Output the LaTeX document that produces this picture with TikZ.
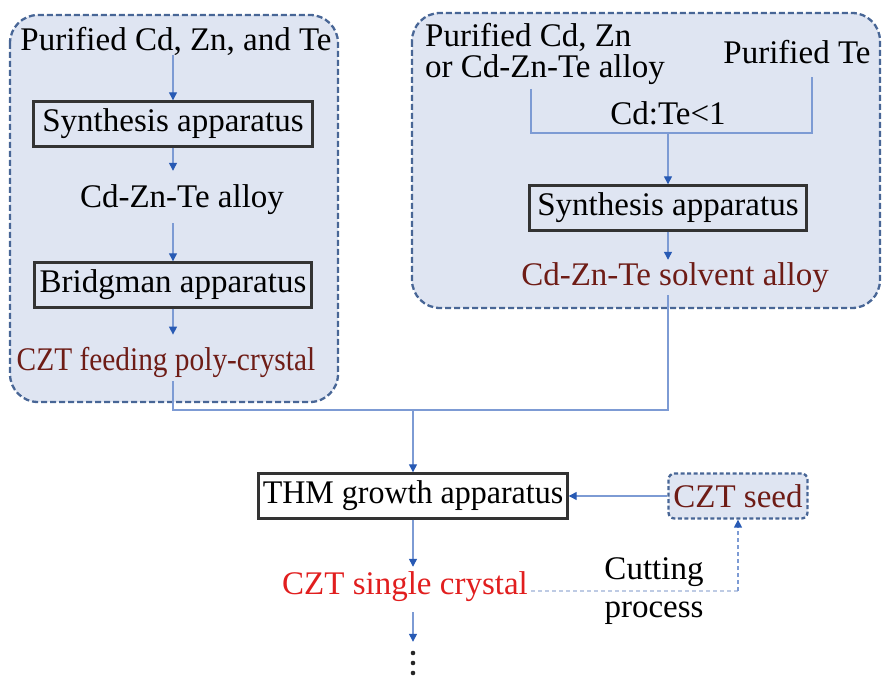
\documentclass[tikz,border=0pt]{standalone}
\usepackage{fontspec}
\usepackage{graphicx}
\setmainfont{Liberation Serif}
\usetikzlibrary{arrows.meta}
\definecolor{boxfill}{RGB}{223,229,242}
\definecolor{boxborder}{RGB}{72,102,150}
\definecolor{conn}{RGB}{125,155,212}
\definecolor{lightconn}{RGB}{190,203,228}
\definecolor{tipc}{RGB}{40,90,180}
\definecolor{darkred}{RGB}{110,28,22}
\definecolor{brightred}{RGB}{225,30,30}
\begin{document}
\begin{tikzpicture}[x=1pt,y=-1pt,
  txt/.style={font=\fontsize{33}{31}\selectfont, inner sep=0pt},
  appbox/.style={txt, draw=black!80, line width=2.4pt, minimum height=45pt},
  group/.style={draw=boxborder, fill=boxfill, dash pattern=on 6pt off 3pt, line width=2.3pt, rounded corners=28pt},
  arr/.style={draw=conn, line width=1.3pt, -{Triangle[length=8pt,width=8pt,color=tipc]}},
  ln/.style={draw=conn, line width=1.3pt},
  dsharr/.style={draw=conn, line width=1.4pt, dash pattern=on 4pt off 3pt, -{Triangle[length=8pt,width=8pt,color=tipc]}},
  dots/.style={fill=black!85},
]
\useasboundingbox (0,0) rectangle (886,684);

% group boxes
\draw[group] (10,15) rectangle (338,402);
\draw[group] (412,13) rectangle (880,308);

% left column
\node[txt] (l1) at (176,41) {Purified Cd, Zn, and Te};
\node[appbox, minimum width=279pt] (l2) at (173,124) {Synthesis apparatus};
\node[txt] (l3) at (182,200) {Cd-Zn-Te alloy};
\node[appbox, minimum width=277pt] (l4) at (173,285) {Bridgman apparatus};
\node[txt, text=darkred] (l5) at (166,362) {\scalebox{0.89}[1]{CZT feeding poly-crystal}};

\draw[arr] (l2.north |- l1.south) -- (l2.north);
\draw[arr] (l2.south) -- ([yshift=14pt]l2.south |- l3.north);
\draw[arr] ([yshift=-8pt]l2.south |- l3.south) -- (l4.north);
\draw[arr] (l4.south) -- ([yshift=12pt]l4.south |- l5.north);

% right column
\node[txt, align=left, font=\fontsize{33}{31}\selectfont] (r1) at (545,54) {Purified Cd, Zn\\or Cd-Zn-Te alloy};
\node[txt] (r2) at (797,52) {Purified Te};
\node[txt] (r3) at (668,113) {Cd:Te<1};
\node[appbox, minimum width=277pt] (r4) at (668,208) {Synthesis apparatus};
\node[txt, text=darkred] (r5) at (675,278) {Cd-Zn-Te solvent alloy};
\coordinate (jn) at (668,133);

\draw[ln] ([xshift=-14pt,yshift=-4pt]r1.south) |- (jn) -| ([xshift=15pt,yshift=-13pt]r2.south);
\draw[arr] (jn) -- (r4.north);
\draw[arr] (r4.south) -- ([yshift=3pt]r4.south |- r5.north);

% merge
\coordinate (mg) at (413,410);
\draw[ln] ([yshift=-4pt]l2.south |- l5.south) |- (mg);
\draw[ln] ([yshift=-2pt]r4.south |- r5.south) |- (mg);

% lower part
\node[appbox, fill=white, minimum width=309pt] (thm) at (413,496) {\scalebox{0.97}[1]{THM growth apparatus}};
\draw[arr] (mg) -- (thm.north);

\node[txt, text=darkred, draw=boxborder, fill=boxfill, dash pattern=on 4pt off 2.5pt, line width=2.3pt,
      rounded corners=6pt, minimum width=139pt, minimum height=45pt] (seed) at (738,496) {CZT seed};
\draw[arr] (seed.west) -- (thm.east);

\node[txt, text=brightred] (sc) at (405,587) {CZT single crystal};
\draw[arr] (thm.south) -- ([yshift=5pt]thm.south |- sc.north);

\node[txt, align=center, font=\fontsize{33}{38}\selectfont] (cut) at (654,591) {Cutting\\process};

\draw[draw=lightconn, line width=1.6pt, dash pattern=on 4pt off 3pt] ([xshift=3pt,yshift=-4pt]sc.east) -- ([yshift=-4pt]sc.east -| seed.south);
\draw[dsharr] ([yshift=-4pt]sc.east -| seed.south) -- (seed.south);

\node[inner sep=0pt, minimum width=6pt, minimum height=26pt] (dt) at (413,663) {};
\fill[dots] ([yshift=10pt]dt.center) circle (2.3pt);
\fill[dots] (dt.center) circle (2.3pt);
\fill[dots] ([yshift=-10pt]dt.center) circle (2.3pt);
\draw[arr] ([yshift=-10pt]thm.south |- sc.south) -- ([yshift=8pt]dt.north);
\end{tikzpicture}
\end{document}
